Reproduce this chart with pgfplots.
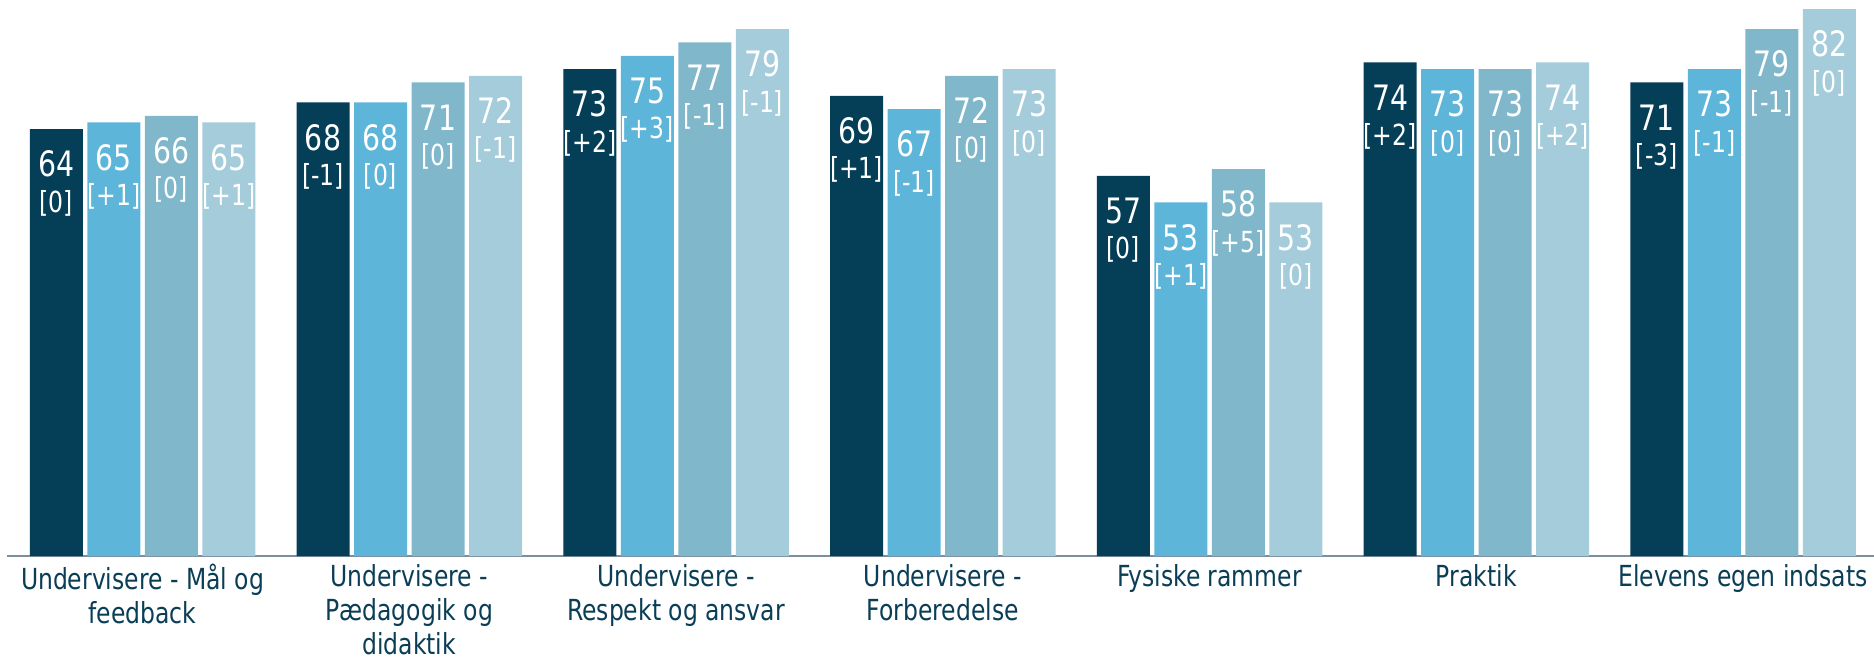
\documentclass[border=0pt]{standalone}
\usepackage{fontspec}
\setmainfont{DejaVu Sans Condensed}[FakeStretch=0.9]
\usepackage{pgfplots}
\usepackage{pgfplotstable}
\pgfplotsset{compat=1.18}
\definecolor{cA}{RGB}{4,62,87}
\definecolor{cB}{RGB}{94,181,218}
\definecolor{cC}{RGB}{128,183,203}
\definecolor{cD}{RGB}{164,204,219}
\definecolor{labcol}{RGB}{10,62,86}
\definecolor{axiscol}{RGB}{125,142,160}

\pgfplotstableread{
x y d
0 64 0
1 68 -1
2 73 +2
3 69 +1
4 57 0
5 74 +2
6 71 -3
}\dataA
\pgfplotstableread{
x y d
0 65 +1
1 68 0
2 75 +3
3 67 -1
4 53 +1
5 73 0
6 73 -1
}\dataB
\pgfplotstableread{
x y d
0 66 0
1 71 0
2 77 -1
3 72 0
4 58 +5
5 73 0
6 79 -1
}\dataC
\pgfplotstableread{
x y d
0 65 +1
1 72 -1
2 79 -1
3 73 0
4 53 0
5 74 +2
6 82 0
}\dataD

\pgfplotsset{
  valbar/.style={ybar, bar width=26.5pt, bar shift=0pt, draw=none,
    point meta=explicit symbolic,
    nodes near coords={\pgfplotspointmeta},
    nodes near coords style={anchor=center, yshift=-17.5pt, text=white,
      font=\fontsize{17.5}{17.5}\selectfont, inner sep=0pt}},
  dltbar/.style={ybar, bar width=26.5pt, bar shift=0pt, draw=none, fill=none,
    point meta=explicit symbolic,
    nodes near coords={[\pgfplotspointmeta]},
    nodes near coords style={anchor=center, yshift=-37pt, text=white,
      font=\fontsize{14.5}{14.5}\selectfont, inner sep=0pt}},
}

\begin{document}
\begin{tikzpicture}
\begin{axis}[
  scale only axis,
  x=133.375pt, y=3.335pt,
  xmin=-0.508, xmax=6.491,
  ymin=0, ymax=83.36,
  axis x line*=bottom,
  axis y line=none,
  x axis line style={-, draw=axiscol, line width=1pt},
  xtick={0,...,6},
  major tick length=0pt,
  xticklabels={{Undervisere - Mål og\\feedback},{Undervisere -\\Pædagogik og\\didaktik},{Undervisere -\\Respekt og ansvar},{Undervisere -\\Forberedelse},{Fysiske rammer},{Praktik},{Elevens egen indsats}},
  xticklabel style={align=center, anchor=north, inner sep=0pt, yshift=-4pt,
    text=labcol, font=\fontsize{14.5}{17}\selectfont},
  clip=false,
]
\addplot[valbar, fill=cA] table[x expr=\thisrow{x}-0.32334,y=y,meta=y]{\dataA};
\addplot[dltbar] table[x expr=\thisrow{x}-0.32334,y=y,meta=d]{\dataA};
\addplot[valbar, fill=cB] table[x expr=\thisrow{x}-0.10778,y=y,meta=y]{\dataB};
\addplot[dltbar] table[x expr=\thisrow{x}-0.10778,y=y,meta=d]{\dataB};
\addplot[valbar, fill=cC] table[x expr=\thisrow{x}+0.10778,y=y,meta=y]{\dataC};
\addplot[dltbar] table[x expr=\thisrow{x}+0.10778,y=y,meta=d]{\dataC};
\addplot[valbar, fill=cD] table[x expr=\thisrow{x}+0.32334,y=y,meta=y]{\dataD};
\addplot[dltbar] table[x expr=\thisrow{x}+0.32334,y=y,meta=d]{\dataD};
\end{axis}
\pgfresetboundingbox
\path[use as bounding box] ([xshift=-3.5pt,yshift=-51.5pt]current axis.south west) rectangle (current axis.north east);
\end{tikzpicture}
\end{document}
